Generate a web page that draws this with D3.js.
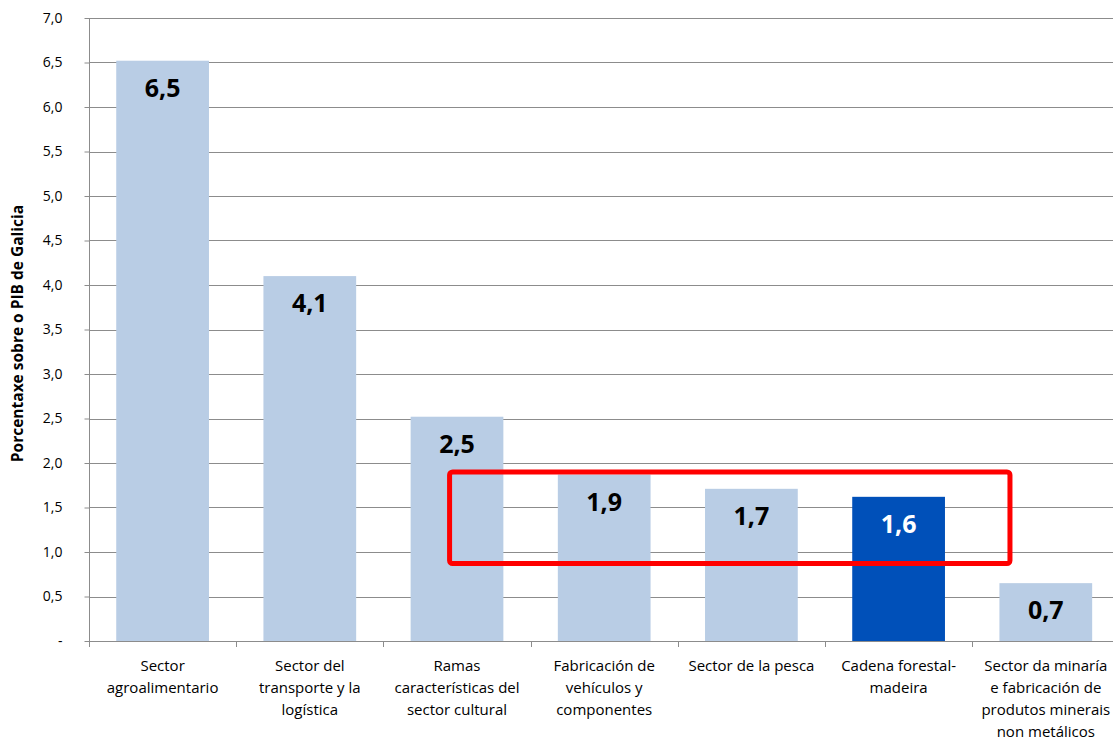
<!DOCTYPE html>
<html>
<head>
<meta charset="utf-8">
<script src="https://cdnjs.cloudflare.com/ajax/libs/d3/7.8.5/d3.min.js"></script>
<style>
  body { margin: 0; background: #fff; }
  svg text { font-family: "Open Sans", "Noto Sans", sans-serif; }
</style>
</head>
<body>
<div id="chart"></div>
<script>
'use strict';

var categories = [
  ['Sector', 'agroalimentario'],
  ['Sector del', 'transporte y la', 'logística'],
  ['Ramas', 'características del', 'sector cultural'],
  ['Fabricación de', 'vehículos y', 'componentes'],
  ['Sector de la pesca'],
  ['Cadena forestal-', 'madeira'],
  ['Sector da minaría', 'e fabricación de', 'produtos minerais', 'non metálicos']
];
var values = [6.52, 4.10, 2.52, 1.87, 1.71, 1.62, 0.65];
var valueLabels = ['6,5', '4,1', '2,5', '1,9', '1,7', '1,6', '0,7'];
var highlighted = [5];
var yTicks = [0, 0.5, 1, 1.5, 2, 2.5, 3, 3.5, 4, 4.5, 5, 5.5, 6, 6.5, 7];
var yTickLabels = ['-', '0,5', '1,0', '1,5', '2,0', '2,5', '3,0', '3,5', '4,0', '4,5', '5,0', '5,5', '6,0', '6,5', '7,0'];
var yTitle = 'Porcentaxe sobre o PIB de Galicia';
// red box: from bar index 2 to 5, spanning values 0.9..1.9
var boxBars = [2, 5];
var boxValues = [0.87, 1.9];

function makeChart(containerSelector) {
  var width = 1113;
  var height = 738;
  var margin = {top: 18, left: 89, bottom: 97};
  var step = 147.2;
  var plotBottom = height - margin.bottom;

  var svg = d3.select(containerSelector)
              .append('svg')
              .attr('width', width)
              .attr('height', height);

  var x = d3.scaleBand()
            .domain(d3.range(categories.length))
            .range([margin.left, margin.left + step * categories.length])
            .paddingInner(0.37)
            .paddingOuter(0.185);

  var y = d3.scaleLinear()
            .domain([0, 7])
            .range([plotBottom, margin.top]);

  // gridlines
  svg.append('g')
     .selectAll('line')
     .data(yTicks.slice(1))
     .enter().append('line')
       .attr('x1', margin.left)
       .attr('x2', width)
       .attr('y1', function(d) { return Math.round(y(d)) + 0.5; })
       .attr('y2', function(d) { return Math.round(y(d)) + 0.5; })
       .attr('stroke', '#8c8c8c')
       .attr('stroke-width', 1);

  // bars
  svg.selectAll('.bar')
     .data(values)
     .enter().append('rect')
       .attr('class', 'bar')
       .attr('x', function(d, i) { return x(i); })
       .attr('width', x.bandwidth())
       .attr('y', function(d) { return y(d); })
       .attr('height', function(d) { return plotBottom - y(d); })
       .attr('fill', function(d, i) { return highlighted.indexOf(i) >= 0 ? '#0050b9' : '#b9cde5'; });

  svg.selectAll('.val')
     .data(values)
     .enter().append('text')
       .attr('class', 'val')
       .attr('x', function(d, i) { return x(i) + x.bandwidth() / 2; })
       .attr('y', function(d) { return y(d) + 36; })
       .attr('text-anchor', 'middle')
       .style('font-size', '25px')
       .style('font-weight', 'bold')
       .attr('fill', function(d, i) { return highlighted.indexOf(i) >= 0 ? '#fff' : '#000'; })
       .text(function(d, i) { return valueLabels[i]; });

  // y axis
  var yAxis = d3.axisLeft(y)
                .tickValues(yTicks)
                .tickSize(5)
                .tickFormat(function(d, i) { return yTickLabels[i]; });

  var gy = svg.append('g')
              .attr('transform', 'translate(' + (margin.left + 0.5) + ',0)')
              .call(yAxis);
  gy.select('.domain').attr('stroke', '#8c8c8c').attr('d', 'M0,' + margin.top + 'V' + (plotBottom + 5));
  gy.selectAll('.tick line').attr('stroke', '#8c8c8c');
  gy.selectAll('.tick text')
    .attr('x', -27)
    .style('font-size', '14px')
    .attr('fill', '#000');

  // x axis
  var xAxisLine = svg.append('g');
  xAxisLine.append('line')
    .attr('x1', margin.left)
    .attr('x2', width)
    .attr('y1', plotBottom + 0.5)
    .attr('y2', plotBottom + 0.5)
    .attr('stroke', '#8c8c8c');
  xAxisLine.selectAll('.xtick')
    .data(d3.range(categories.length + 1))
    .enter().append('line')
      .attr('class', 'xtick')
      .attr('x1', function(i) { return Math.round(margin.left + i * step) + 0.5; })
      .attr('x2', function(i) { return Math.round(margin.left + i * step) + 0.5; })
      .attr('y1', plotBottom)
      .attr('y2', plotBottom + 6)
      .attr('stroke', '#8c8c8c');

  var xl = svg.selectAll('.xlab')
              .data(categories)
              .enter().append('text')
                .attr('class', 'xlab')
                .attr('text-anchor', 'middle')
                .attr('transform', function(d, i) {
                  return 'translate(' + (x(i) + x.bandwidth() / 2) + ',' + (plotBottom + 30) + ')';
                })
                .style('font-size', '15px')
                .attr('fill', '#000');
  xl.selectAll('tspan')
    .data(function(d) { return d; })
    .enter().append('tspan')
      .attr('x', 0)
      .attr('y', function(d, i) { return i * 22; })
      .text(function(d) { return d; });

  svg.append('text')
     .attr('transform', 'translate(23,' + (y(3.5) + 4) + ') rotate(-90)')
     .attr('text-anchor', 'middle')
     .style('font-size', '15.5px')
     .style('font-weight', 'bold')
     .text(yTitle);

  // red highlight box
  var bx0 = x(boxBars[0]) + x.bandwidth() * 0.42;
  var bx1 = x(boxBars[1]) + x.bandwidth() + 65;
  svg.append('rect')
     .attr('x', bx0)
     .attr('y', y(boxValues[1]))
     .attr('width', bx1 - bx0)
     .attr('height', y(boxValues[0]) - y(boxValues[1]))
     .attr('rx', 3)
     .attr('fill', 'none')
     .attr('stroke', '#ff0000')
     .attr('stroke-width', 5);
}

makeChart('#chart');
</script>
</body>
</html>
